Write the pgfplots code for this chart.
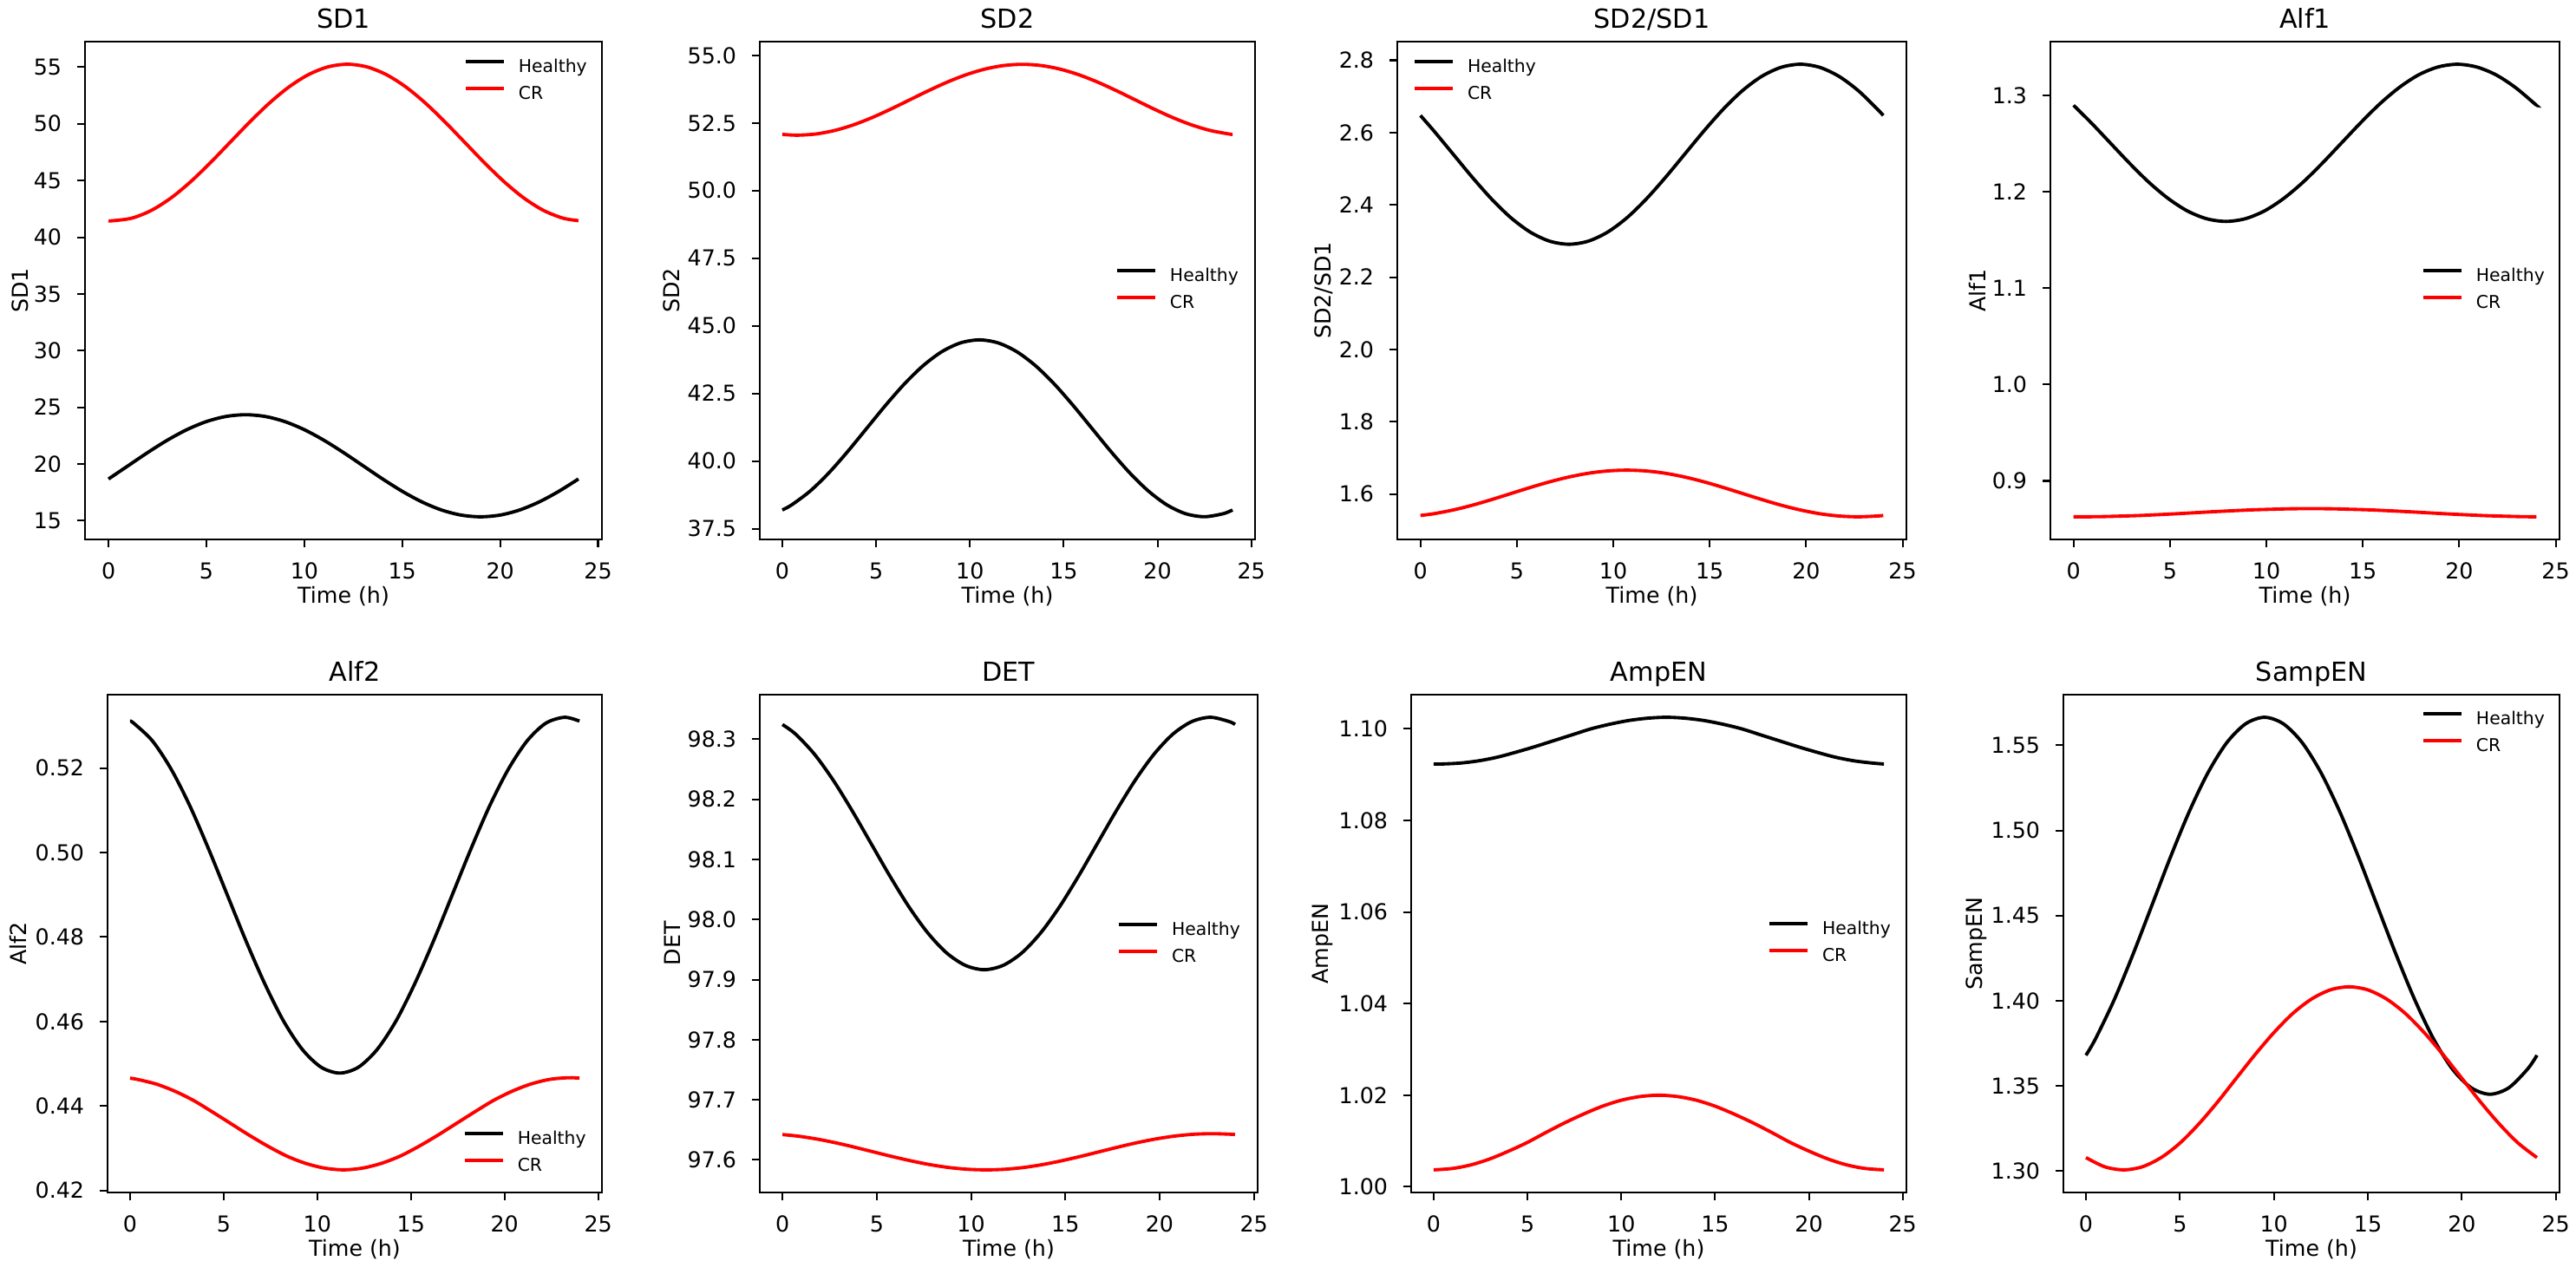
\documentclass[border=0pt]{standalone}
\usepackage{fontspec}
\setmainfont{DejaVu Sans}
\usepackage{pgfplots}
\pgfplotsset{compat=1.18}
\newcommand\ticksize{\fontsize{9.2}{11}\selectfont}
\newcommand\labsize{\fontsize{9.2}{11}\selectfont}
\newcommand\titsize{\fontsize{11}{13}\selectfont}
\newcommand\legsize{\fontsize{7.4}{9}\selectfont}
\pgfplotsset{
 every axis title/.style={at={(axis description cs:0.5,1)}, anchor=base, yshift=5.6pt, font=\titsize},
 myax/.style={
  scale only axis, anchor=south west,
  xmin=-1.2, xmax=25.2,
  xtick={0,5,10,15,20,25}, xticklabels={0,5,10,15,20,25},
  tick align=outside, xtick pos=bottom, ytick pos=left,
  major tick length=3.2pt,
  every tick/.style={black, line width=0.74pt},
  axis line style={line width=0.74pt},
  ticklabel style={font=\ticksize},
  xticklabel style={anchor=north, inner sep=0pt, yshift=-6.4pt},
  yticklabel style={anchor=east, inner sep=0pt, xshift=-6.4pt},
  xlabel={Time (h)},
  xlabel style={at={(axis description cs:0.5,0)}, anchor=base, yshift=-26.7pt, font=\labsize},
  ylabel style={anchor=center, font=\labsize},
  legend style={draw=none, fill=none, inner sep=0pt, outer sep=0pt, font=\legsize, anchor=north west, row sep=3.8pt, column sep=5.5pt, nodes={inner sep=0pt, text height=6pt, text depth=1.5pt}},
  legend cell align=left,
  legend image code/.code={\draw[#1] (0pt,2.25pt) -- (16pt,2.25pt);},
 },
 hl/.style={black, line width=1.4pt, smooth, no markers},
 cr/.style={red, line width=1.4pt, smooth, no markers},
}
\begin{document}
\begin{tikzpicture}
\useasboundingbox (0,0) rectangle (1080pt,533.82pt);
% ---------------- SD1
\begin{axis}[myax, at={(35.64pt,307.64pt)}, width=216.73pt, height=208.73pt,
 ymin=13.355, ymax=57.245, ytick={15,20,25,30,35,40,45,50,55}, yticklabels={15,20,25,30,35,40,45,50,55},
 title={SD1}, ylabel={SD1}, ylabel style={at={(axis description cs:-0.1258,0.5)}},
 legend style={at={(axis description cs:0.733,0.9674)}}]
\addplot[hl] coordinates {(0,18.685)(1,19.85)(2,21.015)(3,22.10)(4,23.032)(5,23.747)(6,24.197)(7,24.35)(8,24.197)(9,23.747)(10,23.032)(11,22.10)(12,21.015)(13,19.85)(14,18.685)(15,17.60)(16,16.668)(17,15.953)(18,15.503)(19,15.35)(20,15.503)(21,15.953)(22,16.668)(23,17.60)(24,18.685)};
\addlegendentry{Healthy}
\addplot[cr] coordinates {(0,41.46)(0.2,41.45)(1.2,41.685)(2.2,42.375)(3.2,43.471)(4.2,44.90)(5.2,46.564)(6.2,48.35)(7.2,50.136)(8.2,51.80)(9.2,53.229)(10.2,54.325)(11.2,55.015)(12.2,55.25)(13.2,55.015)(14.2,54.325)(15.2,53.229)(16.2,51.80)(17.2,50.136)(18.2,48.35)(19.2,46.564)(20.2,44.90)(21.2,43.471)(22.2,42.375)(23.2,41.685)(24,41.46)};
\addlegendentry{CR}
\end{axis}
% ---------------- SD2
\begin{axis}[myax, at={(318.55pt,307.64pt)}, width=207.64pt, height=208.73pt,
 ymin=37.10, ymax=55.51, ytick={37.5,40,42.5,45,47.5,50,52.5,55}, yticklabels={37.5,40.0,42.5,45.0,47.5,50.0,52.5,55.0},
 title={SD2}, ylabel={SD2}, ylabel style={at={(axis description cs:-0.1786,0.5)}},
 legend style={at={(axis description cs:0.718,0.5476)}}]
\addplot[hl] coordinates {(0,38.189)(0.5,38.378)(1.5,38.898)(2.5,39.575)(3.5,40.364)(4.5,41.21)(5.5,42.056)(6.5,42.845)(7.5,43.522)(8.5,44.042)(9.5,44.369)(10.5,44.48)(11.5,44.369)(12.5,44.042)(13.5,43.522)(14.5,42.845)(15.5,42.056)(16.5,41.21)(17.5,40.364)(18.5,39.575)(19.5,38.898)(20.5,38.378)(21.5,38.051)(22.5,37.94)(23.5,38.051)(24,38.189)};
\addlegendentry{Healthy}
\addplot[cr] coordinates {(0,52.079)(0.8,52.05)(1.8,52.095)(2.8,52.226)(3.8,52.434)(4.8,52.705)(5.8,53.021)(6.8,53.36)(7.8,53.699)(8.8,54.015)(9.8,54.286)(10.8,54.494)(11.8,54.625)(12.8,54.67)(13.8,54.625)(14.8,54.494)(15.8,54.286)(16.8,54.015)(17.8,53.699)(18.8,53.36)(19.8,53.021)(20.8,52.705)(21.8,52.434)(22.8,52.226)(23.8,52.095)(24,52.079)};
\addlegendentry{CR}
\end{axis}
% ---------------- SD2/SD1
\begin{axis}[myax, at={(585.82pt,307.64pt)}, width=213.45pt, height=208.73pt,
 ymin=1.4744, ymax=2.8516, ytick={1.6,1.8,2.0,2.2,2.4,2.6,2.8}, yticklabels={1.6,1.8,2.0,2.2,2.4,2.6,2.8},
 title={SD2/SD1}, ylabel={SD2/SD1}, ylabel style={at={(axis description cs:-0.1448,0.5)}},
 legend style={at={(axis description cs:0.0307,0.9674)}}]
\addplot[hl] coordinates {(0,2.6472)(0.7,2.6044)(1.7,2.54)(2.7,2.4756)(3.7,2.4155)(4.7,2.3639)(5.7,2.3244)(6.7,2.2995)(7.7,2.291)(8.7,2.2995)(9.7,2.3244)(10.7,2.3639)(11.7,2.4155)(12.7,2.4756)(13.7,2.54)(14.7,2.6044)(15.7,2.6645)(16.7,2.7161)(17.7,2.7556)(18.7,2.7805)(19.7,2.789)(20.7,2.7805)(21.7,2.7556)(22.7,2.7161)(23.7,2.6645)(24,2.6472)};
\addlegendentry{Healthy}
\addplot[cr] coordinates {(0,1.5407)(0.7,1.5456)(1.7,1.5559)(2.7,1.5692)(3.7,1.5848)(4.7,1.6015)(5.7,1.6182)(6.7,1.6338)(7.7,1.6471)(8.7,1.6574)(9.7,1.6638)(10.7,1.666)(11.7,1.6638)(12.7,1.6574)(13.7,1.6471)(14.7,1.6338)(15.7,1.6182)(16.7,1.6015)(17.7,1.5848)(18.7,1.5692)(19.7,1.5559)(20.7,1.5456)(21.7,1.5392)(22.7,1.537)(23.7,1.5392)(24,1.5407)};
\addlegendentry{CR}
\end{axis}
% ---------------- Alf1
\begin{axis}[myax, at={(859.64pt,307.64pt)}, width=213.45pt, height=208.73pt,
 ymin=0.8393, ymax=1.3556, ytick={0.9,1.0,1.1,1.2,1.3}, yticklabels={0.9,1.0,1.1,1.2,1.3},
 title={Alf1}, ylabel={Alf1}, ylabel style={at={(axis description cs:-0.1431,0.5)}},
 legend style={at={(axis description cs:0.729,0.5476)}}]
\addplot[hl] coordinates {(0,1.2895)(0.9,1.2717)(1.9,1.2506)(2.9,1.2295)(3.9,1.2098)(4.9,1.193)(5.9,1.18)(6.9,1.1719)(7.9,1.1691)(8.9,1.1719)(9.9,1.18)(10.9,1.193)(11.9,1.2098)(12.9,1.2295)(13.9,1.2506)(14.9,1.2717)(15.9,1.2914)(16.9,1.3082)(17.9,1.3212)(18.9,1.3293)(19.9,1.3321)(20.9,1.3293)(21.9,1.3212)(22.9,1.3082)(23.9,1.2914)(24,1.2895)};
\addlegendentry{Healthy}
\addplot[cr] coordinates {(0,0.8628)(0.3,0.8628)(1.3,0.8629)(2.3,0.8634)(3.3,0.8640)(4.3,0.8649)(5.3,0.8659)(6.3,0.8670)(7.3,0.8681)(8.3,0.8691)(9.3,0.8700)(10.3,0.8706)(11.3,0.8711)(12.3,0.8712)(13.3,0.8711)(14.3,0.8706)(15.3,0.8700)(16.3,0.8691)(17.3,0.8681)(18.3,0.8670)(19.3,0.8659)(20.3,0.8649)(21.3,0.8640)(22.3,0.8634)(23.3,0.8629)(24,0.8628)};
\addlegendentry{CR}
\end{axis}
% ---------------- Alf2
\begin{axis}[myax, at={(45.09pt,33.82pt)}, width=207.27pt, height=208.73pt,
 ymin=0.41954, ymax=0.53736, ytick={0.42,0.44,0.46,0.48,0.50,0.52}, yticklabels={0.42,0.44,0.46,0.48,0.50,0.52},
 title={Alf2}, ylabel={Alf2}, ylabel style={at={(axis description cs:-0.1807,0.5)}},
 legend style={at={(axis description cs:0.719,0.1262)}}]
\addplot[hl] coordinates {(0,0.5311)(0.2,0.5306)(1.2,0.5264)(2.2,0.5197)(3.2,0.5110)(4.2,0.5008)(5.2,0.4899)(6.2,0.4790)(7.2,0.4689)(8.2,0.4601)(9.2,0.4534)(10.2,0.4492)(11.2,0.4478)(12.2,0.4492)(13.2,0.4534)(14.2,0.4601)(15.2,0.4689)(16.2,0.4790)(17.2,0.4899)(18.2,0.5008)(19.2,0.5110)(20.2,0.5197)(21.2,0.5264)(22.2,0.5306)(23.2,0.5320)(24,0.5311)};
\addlegendentry{Healthy}
\addplot[cr] coordinates {(0,0.4466)(0.4,0.4463)(1.4,0.4452)(2.4,0.4435)(3.4,0.4413)(4.4,0.4386)(5.4,0.4358)(6.4,0.4330)(7.4,0.4304)(8.4,0.4281)(9.4,0.4264)(10.4,0.4253)(11.4,0.4249)(12.4,0.4253)(13.4,0.4264)(14.4,0.4281)(15.4,0.4304)(16.4,0.4330)(17.4,0.4358)(18.4,0.4386)(19.4,0.4413)(20.4,0.4435)(21.4,0.4452)(22.4,0.4463)(23.4,0.4467)(24,0.4466)};
\addlegendentry{CR}
\end{axis}
% ---------------- DET
\begin{axis}[myax, at={(318.55pt,33.82pt)}, width=208.73pt, height=208.73pt,
 ymin=97.54585, ymax=98.37415, ytick={97.6,97.7,97.8,97.9,98.0,98.1,98.2,98.3}, yticklabels={97.6,97.7,97.8,97.9,98.0,98.1,98.2,98.3},
 title={DET}, ylabel={DET}, ylabel style={at={(axis description cs:-0.176,0.5)}},
 legend style={at={(axis description cs:0.7178,0.5449)}}]
\addplot[hl] coordinates {(0,98.3245)(0.7,98.3084)(1.7,98.275)(2.7,98.2315)(3.7,98.1808)(4.7,98.1265)(5.7,98.0722)(6.7,98.0215)(7.7,97.978)(8.7,97.9446)(9.7,97.9237)(10.7,97.9165)(11.7,97.9237)(12.7,97.9446)(13.7,97.978)(14.7,98.0215)(15.7,98.0722)(16.7,98.1265)(17.7,98.1808)(18.7,98.2315)(19.7,98.275)(20.7,98.3084)(21.7,98.3293)(22.7,98.3365)(23.7,98.3293)(24,98.3245)};
\addlegendentry{Healthy}
\addplot[cr] coordinates {(0,97.6422)(0.8,97.6397)(1.8,97.6349)(2.8,97.6287)(3.8,97.6214)(4.8,97.6136)(5.8,97.6058)(6.8,97.5986)(7.8,97.5923)(8.8,97.5875)(9.8,97.5845)(10.8,97.5835)(11.8,97.5845)(12.8,97.5875)(13.8,97.5923)(14.8,97.5986)(15.8,97.6058)(16.8,97.6136)(17.8,97.6214)(18.8,97.6287)(19.8,97.6349)(20.8,97.6397)(21.8,97.6427)(22.8,97.6437)(23.8,97.6427)(24,97.6422)};
\addlegendentry{CR}
\end{axis}
% ---------------- AmpEN
\begin{axis}[myax, at={(591.64pt,33.82pt)}, width=207.64pt, height=208.73pt,
 ymin=0.99876, ymax=1.10744, ytick={1.00,1.02,1.04,1.06,1.08,1.10}, yticklabels={1.00,1.02,1.04,1.06,1.08,1.10},
 title={AmpEN}, ylabel={AmpEN}, ylabel style={at={(axis description cs:-0.1786,0.5)}},
 legend style={at={(axis description cs:0.7198,0.5476)}}]
\addplot[hl] coordinates {(0,1.0923)(0.4,1.0923)(1.4,1.0925)(2.4,1.0930)(3.4,1.0938)(4.4,1.0949)(5.4,1.0961)(6.4,1.0974)(7.4,1.0987)(8.4,1.1000)(9.4,1.1010)(10.4,1.1018)(11.4,1.1023)(12.4,1.1025)(13.4,1.1023)(14.4,1.1018)(15.4,1.1010)(16.4,1.1000)(17.4,1.0987)(18.4,1.0974)(19.4,1.0961)(20.4,1.0949)(21.4,1.0938)(22.4,1.0930)(23.4,1.0925)(24,1.0923)};
\addlegendentry{Healthy}
\addplot[cr] coordinates {(0,1.0037)(1,1.0040)(2,1.0048)(3,1.0061)(4,1.0078)(5,1.0097)(6,1.0119)(7,1.0140)(8,1.0159)(9,1.0176)(10,1.0189)(11,1.0197)(12,1.0200)(13,1.0197)(14,1.0189)(15,1.0176)(16,1.0159)(17,1.0140)(18,1.0119)(19,1.0097)(20,1.0078)(21,1.0061)(22,1.0048)(23,1.0040)(24,1.0037)};
\addlegendentry{CR}
\end{axis}
% ---------------- SampEN
\begin{axis}[myax, at={(865.09pt,33.82pt)}, width=208.0pt, height=208.73pt,
 ymin=1.28741, ymax=1.57979, ytick={1.30,1.35,1.40,1.45,1.50,1.55}, yticklabels={1.30,1.35,1.40,1.45,1.50,1.55},
 title={SampEN}, ylabel={SampEN}, ylabel style={at={(axis description cs:-0.1748,0.5)}},
 legend style={at={(axis description cs:0.722,0.969)}}]
\addplot[hl] coordinates {(0,1.3680)(0.5,1.3775)(1.5,1.4005)(2.5,1.4272)(3.5,1.4558)(4.5,1.4845)(5.5,1.5112)(6.5,1.5341)(7.5,1.5517)(8.5,1.5627)(9.5,1.5665)(10.5,1.5627)(11.5,1.5517)(12.5,1.5341)(13.5,1.5112)(14.5,1.4845)(15.5,1.4558)(16.5,1.4272)(17.5,1.4005)(18.5,1.3775)(19.5,1.3599)(20.5,1.3489)(21.5,1.3451)(22.5,1.3489)(23.5,1.3599)(24,1.3680)};
\addlegendentry{Healthy}
\addplot[cr] coordinates {(0,1.3079)(1,1.3025)(2,1.3007)(3,1.3025)(4,1.3079)(5,1.3164)(6,1.3276)(7,1.3405)(8,1.3545)(9,1.3684)(10,1.3813)(11,1.3925)(12,1.4010)(13,1.4064)(14,1.4082)(15,1.4064)(16,1.4010)(17,1.3925)(18,1.3813)(19,1.3684)(20,1.3545)(21,1.3405)(22,1.3276)(23,1.3164)(24,1.3079)};
\addlegendentry{CR}
\end{axis}
\end{tikzpicture}
\end{document}
